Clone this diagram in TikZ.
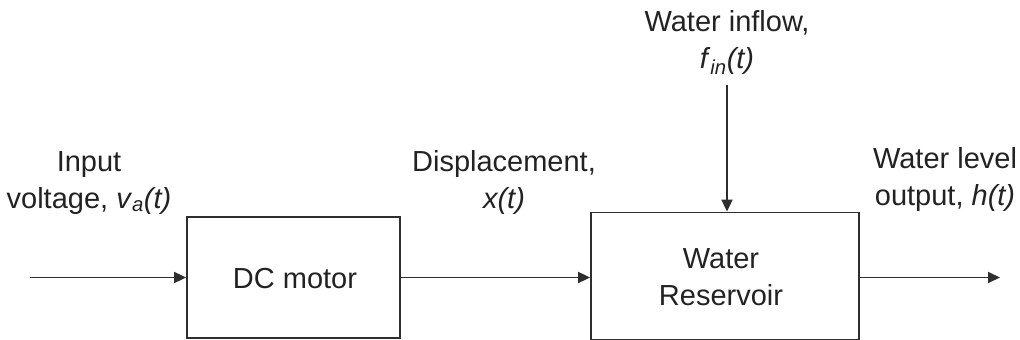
\documentclass[tikz,border=0pt]{standalone}
\usepackage{fontspec}
\setmainfont{Liberation Sans}
\usetikzlibrary{arrows.meta}
\definecolor{ink}{HTML}{222222}
\definecolor{edge}{HTML}{2E2E2E}
\begin{document}
\begin{tikzpicture}[x=1pt,y=-1pt,
  block/.style={draw=edge, line width=1.8pt, inner sep=0pt},
  signal/.style={draw=edge, line width=1.8pt, -{Triangle[length=12pt,width=11pt]}},
  txt/.style={text=ink, align=center, inner sep=0pt, anchor=base,
    font=\fontsize{29}{37}\selectfont}]
  \useasboundingbox (0,0) rectangle (1020,340);

  % blocks
  \node[block, minimum width=213pt, minimum height=121pt] (dc) at (293.5,277.5) {};
  \node[txt] (dctxt) at (295,288) {DC motor};
  \node[block, minimum width=268pt, minimum height=127pt] (res) at (725,276) {};
  \node[txt] (restxt) at (721,305) {Water\\Reservoir};

  % signal end points
  \coordinate (in) at (30,277.5);
  \coordinate (out) at (1000,277.5);
  \coordinate (inflow) at (727,85);

  % connectors
  \draw[signal] (in) -- (dc.west);
  \draw[signal] (dc.east) -- (res.west |- dc.east);
  \draw[signal] (res.east |- dc.east) -- (out);
  \draw[signal] (inflow) -- (inflow |- res.north);

  % signal labels (anchored at the baseline of their last line)
  \node[txt] (lin) at (89,208) {Input\\voltage, \textit{v}\textsubscript{\textit{a}}\textit{(t)}};
  \node[txt] (lx) at (504,208) {Displacement,\\\textit{x(t)}};
  \node[txt] (lf) at (727,68) {Water inflow,\\\textit{f}\textsubscript{\textit{in}}\textit{(t)}};
  \node[txt] (lh) at (945,205) {Water level\\output, \textit{h(t)}};
\end{tikzpicture}
\end{document}
